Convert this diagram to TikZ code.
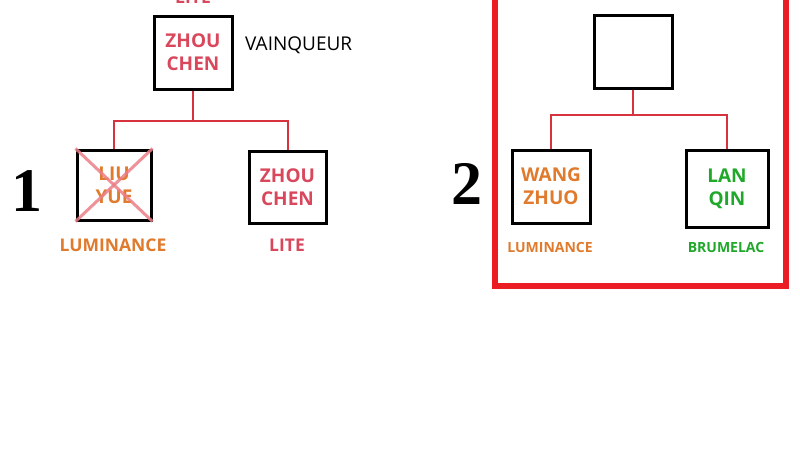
\documentclass[tikz,border=0pt]{standalone}
\usepackage{fontspec}
\setmainfont{Open Sans}
\newfontfamily\numfont{Liberation Serif}
\definecolor{namered}{HTML}{D9475C}
\definecolor{nameorange}{HTML}{E07A2C}
\definecolor{namegreen}{HTML}{1FA82A}
\definecolor{linkred}{HTML}{D6333F}
\definecolor{framered}{HTML}{EC1C24}
\definecolor{crossred}{HTML}{EC7E88}
\tikzset{
  pbox/.style={draw=black, line width=3pt, rectangle, inner sep=0pt, align=center,
    font=\fontsize{19}{23}\selectfont\bfseries},
  link/.style={draw=linkred, line width=2pt},
  biglabel/.style={font=\fontsize{17.5}{21}\selectfont\bfseries, inner sep=0pt},
  smalllabel/.style={font=\fontsize{14}{17}\selectfont\bfseries, inner sep=0pt},
  bignum/.style={font=\numfont\fontsize{62}{62}\selectfont\bfseries, inner sep=0pt},
}
\begin{document}
\begin{tikzpicture}[x=1pt,y=-1pt]
\clip (0,0) rectangle (800,463);
\fill[white] (0,0) rectangle (800,463);

% ---------- panel 1 ----------
\node[biglabel, text=namered] (lite0) at (193,-3) {LITE};
\node[pbox, minimum width=78pt, minimum height=73pt, text=namered] (w1) at (193,52.5) {ZHOU\\CHEN};
\node[inner sep=0pt, font=\fontsize{19}{22}\selectfont, anchor=west] (vq) at (245,45) {VAINQUEUR};
\node[pbox, minimum width=74pt, minimum height=70pt, text=nameorange] (a1) at (114,185) {LIU\\YUE};
\node[pbox, minimum width=77pt, minimum height=72pt, text=namered] (b1) at (287.5,187) {ZHOU\\CHEN};
\draw[crossred, line width=3pt, opacity=0.85] (a1.north west) -- (a1.south east);
\draw[crossred, line width=3pt, opacity=0.85] (a1.south west) -- (a1.north east);
\node[biglabel, text=nameorange] (la1) at (113,245) {LUMINANCE};
\node[biglabel, text=namered] (lb1) at (287,245) {LITE};
\coordinate (j1) at (193,121);
\draw[link] (w1.south) -- (j1);
\draw[link] (a1.north) |- (j1) -| (b1.north);
\node[bignum] (n1) at (27,191) {1};

% ---------- panel 2 ----------
\draw[framered, line width=6pt] (495,-20) rectangle (786,286);
\node[pbox, minimum width=78pt, minimum height=73pt] (w2) at (633,51.5) {};
\node[pbox, minimum width=78pt, minimum height=73pt, text=nameorange] (a2) at (551,186.5) {WANG\\ZHUO};
\node[pbox, minimum width=82pt, minimum height=77pt, text=namegreen] (b2) at (727,188.5) {LAN\\QIN};
\node[smalllabel, text=nameorange] (la2) at (550,247) {LUMINANCE};
\node[smalllabel, text=namegreen] (lb2) at (726,247) {BRUMELAC};
\coordinate (j2) at (633,115);
\draw[link] (w2.south) -- (j2);
\draw[link] (a2.north) |- (j2) -| (b2.north);
\node[bignum] (n2) at (467,184) {2};
\end{tikzpicture}
\end{document}
